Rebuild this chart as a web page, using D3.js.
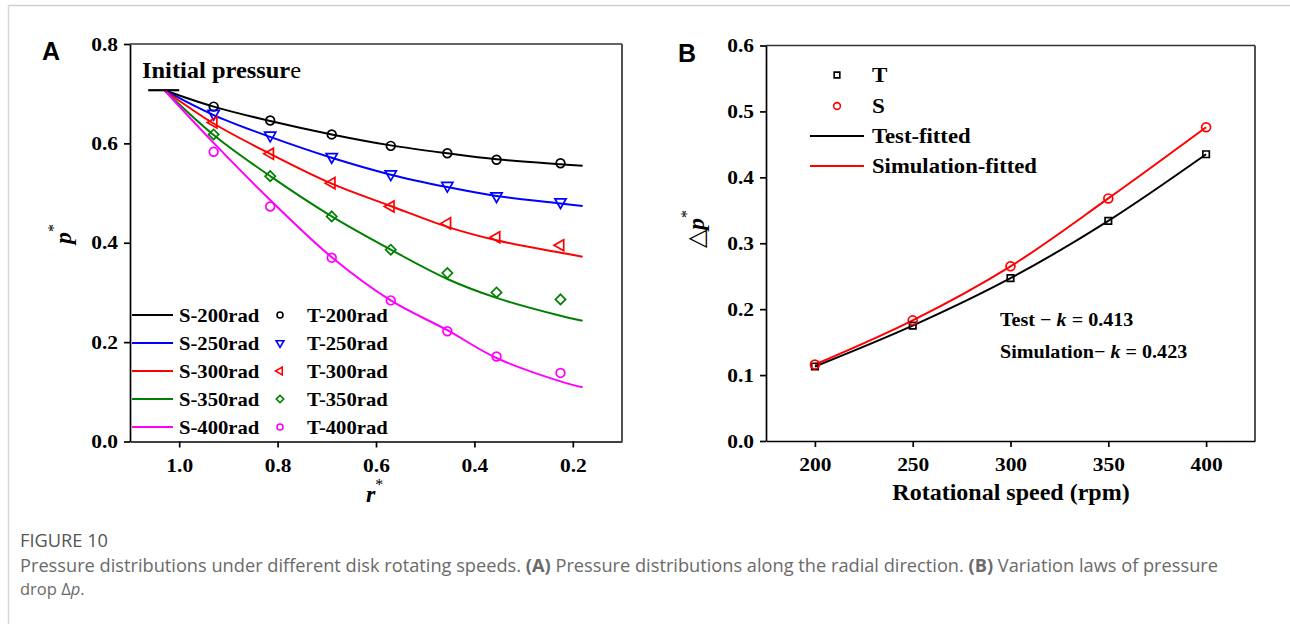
<!DOCTYPE html>
<html><head><meta charset="utf-8">
<script src="https://cdn.jsdelivr.net/npm/d3@7"></script>
<style>body{margin:0;background:#fff;} svg{display:block;}</style>
</head><body>
<svg id="c" width="1290" height="624"></svg>
<script>
// ---------- Panel A data ----------
const rTest = [0.93, 0.815, 0.69, 0.57, 0.455, 0.355, 0.225];
const T200 = [0.674, 0.646, 0.618, 0.595, 0.580, 0.567, 0.560];
const T250 = [0.660, 0.616, 0.573, 0.538, 0.515, 0.494, 0.482];
const T300 = [0.642, 0.579, 0.520, 0.473, 0.439, 0.411, 0.395];
const T350 = [0.618, 0.534, 0.453, 0.386, 0.339, 0.300, 0.286];
const T400 = [0.583, 0.473, 0.370, 0.284, 0.222, 0.171, 0.138];

const rSim = [1.03, 0.93, 0.815, 0.69, 0.57, 0.455, 0.355, 0.225, 0.18];
const S200 = [0.707, 0.674, 0.645, 0.618, 0.596, 0.580, 0.568, 0.558, 0.555];
const S250 = [0.707, 0.657, 0.613, 0.571, 0.537, 0.512, 0.494, 0.479, 0.474];
const S300 = [0.707, 0.640, 0.579, 0.519, 0.474, 0.432, 0.405, 0.380, 0.372];
const S350 = [0.707, 0.617, 0.534, 0.453, 0.386, 0.327, 0.289, 0.253, 0.243];
const S400 = [0.707, 0.601, 0.486, 0.371, 0.284, 0.224, 0.168, 0.121, 0.109];

const initR = [1.063, 1.0];
const initP = 0.707;

const simLabels = ["S-200rad", "S-250rad", "S-300rad", "S-350rad", "S-400rad"];
const testLabels = ["T-200rad", "T-250rad", "T-300rad", "T-350rad", "T-400rad"];
const colorsA = ["#000000", "#0000ff", "#ff0000", "#008000", "#ff00ff"];

const xTicksA = [1.0, 0.8, 0.6, 0.4, 0.2];
const xMinorA = [1.1, 0.9, 0.7, 0.5, 0.3, 0.1];
const yTicksA = [0.0, 0.2, 0.4, 0.6, 0.8];
const yMinorA = [0.1, 0.3, 0.5, 0.7];

// ---------- Panel B data ----------
const speeds = [200, 250, 300, 350, 400];
const testDp = [0.113, 0.175, 0.247, 0.334, 0.435];
const simDp = [0.116, 0.183, 0.265, 0.368, 0.476];
const xTicksB = [200, 250, 300, 350, 400];
const xMinorB = [175, 225, 275, 325, 375, 425];
const yTicksB = [0.0, 0.1, 0.2, 0.3, 0.4, 0.5, 0.6];
const yMinorB = [0.05, 0.15, 0.25, 0.35, 0.45, 0.55];

const svg = d3.select("#c");
const SERIF = "'Liberation Serif','Times New Roman',serif";
const SANS = "'Liberation Sans',Arial,sans-serif";

function stretch(sel, sx) {
  sel.each(function () {
    const t = d3.select(this);
    const x = +t.attr("x") || 0;
    t.attr("transform", `translate(${x * (1 - sx)},0) scale(${sx},1)`);
  });
}

// frame
svg.append("line").attr("x1", 8).attr("x2", 1290).attr("y1", 5.5).attr("y2", 5.5).attr("stroke", "#d0d0d0").attr("stroke-width", 1.5);
svg.append("line").attr("x1", 8.5).attr("x2", 8.5).attr("y1", 5).attr("y2", 624).attr("stroke", "#d8d8d8").attr("stroke-width", 1.5);

function axes(x, y, xMaj, xMin, yMaj, yMin, xFmt, yFmt) {
  const [x0, x1] = x.range();
  const [y0, y1] = y.range();
  const g = svg.append("g");
  const sw = 1.7;
  const gx = g.append("g").attr("transform", `translate(0,${y0})`);
  gx.call(d3.axisBottom(x).tickValues(xMin).tickSize(4).tickSizeOuter(0).tickFormat(""));
  gx.call(d3.axisBottom(x).tickValues(xMaj).tickSize(6).tickSizeOuter(0).tickPadding(10.5).tickFormat(xFmt));
  const gy = g.append("g").attr("transform", `translate(${x0},0)`);
  gy.call(d3.axisLeft(y).tickValues(yMin).tickSize(4).tickSizeOuter(0).tickFormat(""));
  gy.call(d3.axisLeft(y).tickValues(yMaj).tickSize(6).tickSizeOuter(0).tickPadding(6).tickFormat(yFmt));
  g.selectAll("path.domain").attr("stroke", "#000").attr("stroke-width", sw);
  g.selectAll(".tick line").attr("stroke", "#000").attr("stroke-width", sw);
  g.selectAll(".tick text").attr("font-family", SERIF).attr("font-weight", "bold").attr("font-size", 19.5).attr("fill", "#000");
  stretch(gx.selectAll(".tick text"), 1.1);
  stretch(gy.selectAll(".tick text"), 1.1);
  g.append("line").attr("x1", x0).attr("x2", x1).attr("y1", y1).attr("y2", y1).attr("stroke", "#333").attr("stroke-width", sw);
  g.append("line").attr("x1", x1).attr("x2", x1).attr("y1", y1).attr("y2", y0).attr("stroke", "#333").attr("stroke-width", sw);
}

function text(x, y, parts, opts) {
  const t = svg.append("text").attr("x", x).attr("y", y)
    .attr("font-family", opts.family || SERIF).attr("font-size", opts.size)
    .attr("font-weight", opts.weight || "bold").attr("fill", opts.fill || "#000")
    .attr("text-anchor", opts.anchor || "start");
  parts.forEach(p => {
    const s = t.append("tspan").text(p.t);
    if (p.style) s.attr("font-style", p.style);
    if (p.weight) s.attr("font-weight", p.weight);
    if (p.size) s.attr("font-size", p.size);
    if (p.dy) s.attr("dy", p.dy);
  });
  if (opts.rotate) t.attr("transform", `rotate(-90,${x},${y})`);
  else if (opts.sx) stretch(t, opts.sx);
  return t;
}

// ================= Panel A =================
const xA = d3.scaleLinear().domain([1.1, 0.1]).range([130, 622]);
const yA = d3.scaleLinear().domain([0, 0.8]).range([441.5, 44]);
axes(xA, yA, xTicksA, xMinorA, yTicksA, yMinorA, d3.format(".1f"), d3.format(".1f"));

const simA = [S200, S250, S300, S350, S400];
const testA = [T200, T250, T300, T350, T400];
const lineA = d3.line().x(d => xA(d[0])).y(d => yA(d[1])).curve(d3.curveCatmullRom.alpha(0.5));
simA.forEach((s, i) => {
  svg.append("path").datum(rSim.map((r, j) => [r, s[j]])).attr("d", lineA)
    .attr("fill", "none").attr("stroke", colorsA[i]).attr("stroke-width", 2);
});

const symA = [
  { type: d3.symbolCircle, size: 60, rot: 0, lsize: 28 },
  { type: d3.symbolTriangle, size: 54, rot: 180, lsize: 26 },
  { type: d3.symbolTriangle, size: 54, rot: -90, lsize: 26 },
  { type: d3.symbolSquare, size: 52, rot: 45, lsize: 28 },
  { type: d3.symbolCircle, size: 60, rot: 0, lsize: 28 }
];
testA.forEach((s, i) => {
  const sy = symA[i];
  svg.append("g").selectAll("path").data(rTest.map((r, j) => [r, s[j]])).join("path")
    .attr("d", d3.symbol().type(sy.type).size(sy.size))
    .attr("transform", d => `translate(${xA(d[0])},${yA(d[1])}) rotate(${sy.rot})`)
    .attr("fill", "none").attr("stroke", colorsA[i]).attr("stroke-width", 1.7);
});

// initial pressure
svg.append("line").attr("x1", xA(initR[0])).attr("x2", xA(initR[1])).attr("y1", yA(initP)).attr("y2", yA(initP))
  .attr("stroke", "#000").attr("stroke-width", 2.2);
text(142, 78, [{ t: "Initial pressur" }, { t: "e", weight: "normal" }], { size: 23.5, sx: 1.04 });

// legend A
simLabels.forEach((lab, i) => {
  const yy = 315 + i * 28;
  svg.append("line").attr("x1", 132).attr("x2", 173).attr("y1", yy).attr("y2", yy).attr("stroke", colorsA[i]).attr("stroke-width", 2);
  text(179, yy + 7, [{ t: lab }], { size: 19.5, sx: 1.06 });
  const sy = symA[i];
  svg.append("path").attr("d", d3.symbol().type(sy.type).size(sy.lsize)())
    .attr("transform", `translate(280,${yy}) rotate(${sy.rot})`)
    .attr("fill", "none").attr("stroke", colorsA[i]).attr("stroke-width", 1.6);
  text(307, yy + 7, [{ t: testLabels[i] }], { size: 19.5, sx: 1.06 });
});

// axis titles A
text(366, 502, [{ t: "r", style: "italic" }, { t: "*", weight: "normal", size: 16, dy: -12 }], { size: 24 });
text(71, 234, [{ t: "p", style: "italic" }, { t: "*", weight: "normal", size: 16, dy: -12 }], { size: 24, rotate: true, anchor: "middle" });
text(42, 60, [{ t: "A" }], { size: 25, family: SANS });

// ================= Panel B =================
const xB = d3.scaleLinear().domain([175, 425]).range([766, 1255]);
const yB = d3.scaleLinear().domain([0, 0.6]).range([441, 45.5]);
axes(xB, yB, xTicksB, xMinorB, yTicksB, yMinorB, d3.format("d"), d3.format(".1f"));

const lineB = d3.line().x(d => xB(d[0])).y(d => yB(d[1])).curve(d3.curveCatmullRom.alpha(0.5));
svg.append("path").datum(speeds.map((s, j) => [s, testDp[j]])).attr("d", lineB)
  .attr("fill", "none").attr("stroke", "#000").attr("stroke-width", 2);
svg.append("path").datum(speeds.map((s, j) => [s, simDp[j]])).attr("d", lineB)
  .attr("fill", "none").attr("stroke", "#ff0000").attr("stroke-width", 2);
svg.append("g").selectAll("path").data(speeds.map((s, j) => [s, testDp[j]])).join("path")
  .attr("d", d3.symbol().type(d3.symbolSquare).size(42))
  .attr("transform", d => `translate(${xB(d[0])},${yB(d[1])})`)
  .attr("fill", "none").attr("stroke", "#000").attr("stroke-width", 1.7);
svg.append("g").selectAll("path").data(speeds.map((s, j) => [s, simDp[j]])).join("path")
  .attr("d", d3.symbol().type(d3.symbolCircle).size(62))
  .attr("transform", d => `translate(${xB(d[0])},${yB(d[1])})`)
  .attr("fill", "none").attr("stroke", "#ff0000").attr("stroke-width", 1.7);

// legend B
svg.append("path").attr("d", d3.symbol().type(d3.symbolSquare).size(32)()).attr("transform", "translate(837,75)")
  .attr("fill", "none").attr("stroke", "#000").attr("stroke-width", 1.6);
text(872, 82, [{ t: "T" }], { size: 22, sx: 1.05 });
svg.append("path").attr("d", d3.symbol().type(d3.symbolCircle).size(36)()).attr("transform", "translate(837,106)")
  .attr("fill", "none").attr("stroke", "#ff0000").attr("stroke-width", 1.6);
text(872, 113, [{ t: "S" }], { size: 22, sx: 1.05 });
svg.append("line").attr("x1", 810).attr("x2", 864).attr("y1", 136).attr("y2", 136).attr("stroke", "#000").attr("stroke-width", 2);
text(872, 143, [{ t: "Test-fitted" }], { size: 22, sx: 1.03 });
svg.append("line").attr("x1", 810).attr("x2", 864).attr("y1", 166).attr("y2", 166).attr("stroke", "#ff0000").attr("stroke-width", 2);
text(872, 173, [{ t: "Simulation-fitted" }], { size: 22, sx: 1.03 });

// annotations
text(1000, 326, [{ t: "Test \u2212 " }, { t: "k", style: "italic" }, { t: " = 0.413" }], { size: 19, sx: 1.06 });
text(1000, 358, [{ t: "Simulation\u2212 " }, { t: "k", style: "italic" }, { t: " = 0.423" }], { size: 19, sx: 1.06 });

// axis titles B
text(1011, 500, [{ t: "Rotational speed (rpm)" }], { size: 24, anchor: "middle" });
text(704, 229, [{ t: "\u25B3", weight: "normal", size: 24 }, { t: "p", style: "italic" }, { t: "*", weight: "normal", size: 16, dy: -12 }], { size: 24, rotate: true, anchor: "middle" });
text(678, 62, [{ t: "B" }], { size: 25, family: SANS });

// ================= Caption =================
const CAP = "'Open Sans','Noto Sans',sans-serif";
text(20, 547, [{ t: "FIGURE 10" }], { size: 18, weight: "normal", family: CAP, fill: "#555" })
  .attr("textLength", 88).attr("lengthAdjust", "spacingAndGlyphs");
text(20, 572, [{ t: "Pressure distributions under different disk rotating speeds. " }, { t: "(A)", weight: "bold" },
  { t: " Pressure distributions along the radial direction. " }, { t: "(B)", weight: "bold" }, { t: " Variation laws of pressure" }],
  { size: 18, weight: "normal", family: CAP, fill: "#6a6a6a" }).attr("textLength", 1198).attr("lengthAdjust", "spacingAndGlyphs");
text(20, 595, [{ t: "drop \u0394" }, { t: "p", style: "italic" }, { t: "." }], { size: 16.5, weight: "normal", family: CAP, fill: "#6a6a6a" });
</script>
</body></html>
